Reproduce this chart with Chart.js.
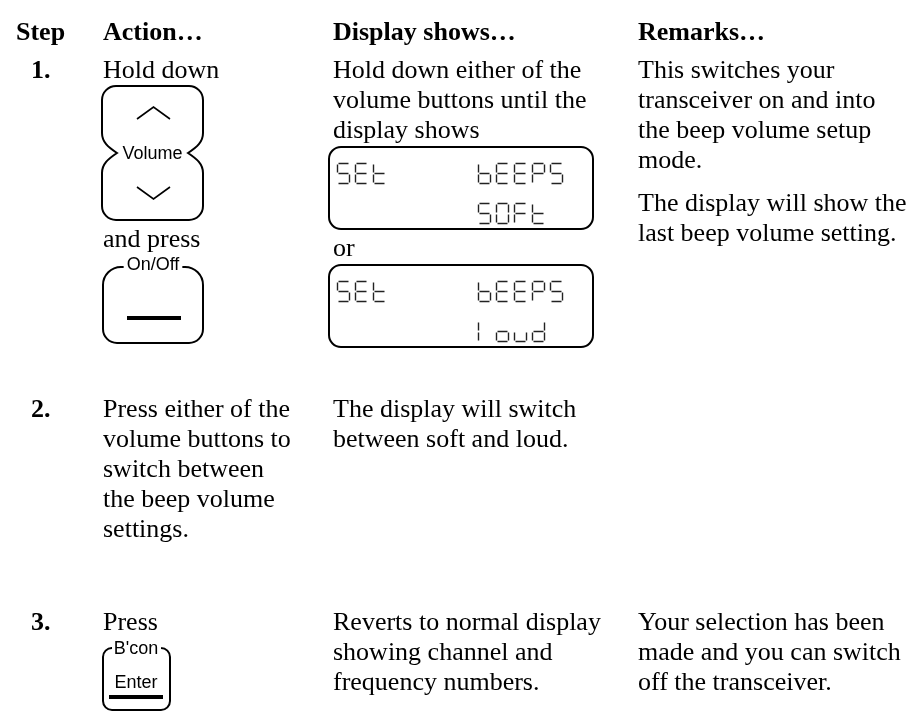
<!DOCTYPE html>
<html>
<head>
<meta charset="utf-8">
<script src="https://cdn.jsdelivr.net/npm/chart.js@4.4.0/dist/chart.umd.min.js"></script>
<style>
html, body { margin: 0; padding: 0; background: #fff; }
#page { width: 908px; height: 712px; }
</style>
</head>
<body>
<div id="page"><canvas id="stepsChart" width="908" height="712"></canvas></div>
<script>
// Table text
const headers = ['Step', 'Action…', 'Display shows…', 'Remarks…'];
const stepNumbers = ['1.', '2.', '3.'];

const step1Action = ['Hold down'];
const step1ActionAfter = ['and press'];
const step1Display = ['Hold down either of the', 'volume buttons until the', 'display shows'];
const step1DisplayOr = ['or'];
const step1Remarks = ['This switches your', 'transceiver on and into', 'the beep volume setup', 'mode.'];
const step1Remarks2 = ['The display will show the', 'last beep volume setting.'];

const step2Action = ['Press either of the', 'volume buttons to', 'switch between', 'the beep volume', 'settings.'];
const step2Display = ['The display will switch', 'between soft and loud.'];

const step3Action = ['Press'];
const step3Display = ['Reverts to normal display', 'showing channel and', 'frequency numbers.'];
const step3Remarks = ['Your selection has been', 'made and you can switch', 'off the transceiver.'];

// LCD contents (one entry per display box)
const lcdLeft = ['SEt', 'SEt'];
const lcdRight = ['bEEPS', 'bEEPS'];
const lcdSecond = ['SOFt', 'loud'];

// Button captions
const volumeLabel = 'Volume';
const onOffLabel = 'On/Off';
const bconLabel = "B'con";
const enterLabel = 'Enter';

// 7-segment letters
const segmentMap = {
    S: 'afgcd', E: 'afged', t: 'fged', b: 'fgecd', P: 'abfge',
    O: 'abcdef', F: 'afge', l: 'ef', o: 'cdeg', u: 'cde', d: 'bcdeg'
};

const SERIF = '"Liberation Serif", "Times New Roman", serif';
const SANS = '"Liberation Sans", Arial, sans-serif';

const pagePlugin = {
    id: 'pagePlugin',
    afterDraw(chart) {
        const ctx = chart.ctx;
        const xs = chart.scales.x;
        const ys = chart.scales.y;
        const px = v => xs.getPixelForValue(v);
        const py = v => ys.getPixelForValue(v);

        ctx.save();
        ctx.fillStyle = '#000';
        ctx.strokeStyle = '#000';
        ctx.textBaseline = 'alphabetic';

        function lines(arr, x, base) {
            arr.forEach((t, i) => ctx.fillText(t, px(x), py(base + i * 30)));
        }

        // headers
        ctx.font = 'bold 26px ' + SERIF;
        const colX = [16, 103, 333, 638];
        headers.forEach((h, i) => ctx.fillText(h, px(colX[i]), py(40)));
        const rowBase = [78, 417, 630];
        stepNumbers.forEach((n, i) => ctx.fillText(n, px(31), py(rowBase[i])));

        // body text
        ctx.font = '26px ' + SERIF;
        lines(step1Action, 103, 78);
        lines(step1ActionAfter, 103, 247);
        lines(step1Display, 333, 78);
        lines(step1DisplayOr, 333, 256);
        lines(step1Remarks, 638, 78);
        lines(step1Remarks2, 638, 211);
        lines(step2Action, 103, 417);
        lines(step2Display, 333, 417);
        lines(step3Action, 103, 630);
        lines(step3Display, 333, 630);
        lines(step3Remarks, 638, 630);

        // volume button (two keys joined, pinched in the middle)
        ctx.lineWidth = 2;
        (function () {
            const L = px(102), R = px(203), T = py(86), B = py(220), M = py(153), r = 14, k = 15;
            ctx.beginPath();
            ctx.moveTo(L + r, T);
            ctx.lineTo(R - r, T);
            ctx.arcTo(R, T, R, T + r, r);
            ctx.lineTo(R, M - 20);
            ctx.bezierCurveTo(R, M - 11, R - 6, M - 6, R - k, M);
            ctx.bezierCurveTo(R - 6, M + 6, R, M + 11, R, M + 20);
            ctx.lineTo(R, B - r);
            ctx.arcTo(R, B, R - r, B, r);
            ctx.lineTo(L + r, B);
            ctx.arcTo(L, B, L, B - r, r);
            ctx.lineTo(L, M + 20);
            ctx.bezierCurveTo(L, M + 11, L + 6, M + 6, L + k, M);
            ctx.bezierCurveTo(L + 6, M - 6, L, M - 11, L, M - 20);
            ctx.lineTo(L, T + r);
            ctx.arcTo(L, T, L + r, T, r);
            ctx.closePath();
            ctx.stroke();

            ctx.lineWidth = 1.6;
            ctx.beginPath();
            ctx.moveTo(px(137), py(119)); ctx.lineTo(px(153.5), py(107)); ctx.lineTo(px(170), py(119));
            ctx.moveTo(px(137), py(187)); ctx.lineTo(px(153.5), py(199)); ctx.lineTo(px(170), py(187));
            ctx.stroke();

            ctx.font = '18px ' + SANS;
            ctx.textAlign = 'center';
            ctx.textBaseline = 'middle';
            ctx.fillText(volumeLabel, px(152.5), py(154));
            ctx.textAlign = 'left';
            ctx.textBaseline = 'alphabetic';
        })();

        // button with caption in the top edge
        function captionButton(L, R, T, B, rt, rb, cx, label, labelBase) {
            ctx.font = '18px ' + SANS;
            const w = ctx.measureText(label).width;
            const g1 = cx - w / 2 - 3, g2 = cx + w / 2 + 3;
            ctx.lineWidth = 2;
            ctx.beginPath();
            ctx.moveTo(g1, T);
            ctx.lineTo(L + rt, T);
            ctx.arcTo(L, T, L, T + rt, rt);
            ctx.lineTo(L, B - rb);
            ctx.arcTo(L, B, L + rb, B, rb);
            ctx.lineTo(R - rb, B);
            ctx.arcTo(R, B, R, B - rb, rb);
            ctx.lineTo(R, T + rt);
            ctx.arcTo(R, T, R - rt, T, rt);
            ctx.lineTo(g2, T);
            ctx.stroke();
            ctx.textAlign = 'center';
            ctx.fillText(label, cx, labelBase);
            ctx.textAlign = 'left';
        }

        captionButton(px(103), px(203), py(267), py(343), 18, 14, px(153), onOffLabel, py(270));
        ctx.lineWidth = 4;
        ctx.beginPath();
        ctx.moveTo(px(127), py(318)); ctx.lineTo(px(181), py(318));
        ctx.stroke();

        captionButton(px(103), px(170), py(648), py(710), 9, 9, px(136), bconLabel, py(654));
        ctx.font = '18px ' + SANS;
        ctx.textAlign = 'center';
        ctx.fillText(enterLabel, px(136), py(688));
        ctx.textAlign = 'left';
        ctx.lineWidth = 4;
        ctx.beginPath();
        ctx.moveTo(px(109), py(697)); ctx.lineTo(px(163), py(697));
        ctx.stroke();

        // LCD boxes
        function roundRect(L, T, R, B, r) {
            ctx.beginPath();
            ctx.moveTo(L + r, T);
            ctx.lineTo(R - r, T);
            ctx.arcTo(R, T, R, T + r, r);
            ctx.lineTo(R, B - r);
            ctx.arcTo(R, B, R - r, B, r);
            ctx.lineTo(L + r, B);
            ctx.arcTo(L, B, L, B - r, r);
            ctx.lineTo(L, T + r);
            ctx.arcTo(L, T, L + r, T, r);
            ctx.closePath();
            ctx.stroke();
        }

        function segChar(ch, x, y) {
            const w = 12, h = 20, gap = 1, m = h / 2;
            const segs = {
                a: [gap, 0, w - gap, 0], b: [w, gap, w, m - gap], c: [w, m + gap, w, h - gap],
                d: [gap, h, w - gap, h], e: [0, m + gap, 0, h - gap], f: [0, gap, 0, m - gap],
                g: [gap, m, w - gap, m]
            };
            const on = segmentMap[ch] || '';
            ctx.beginPath();
            for (const s of on) {
                const c = segs[s];
                ctx.moveTo(x + c[0], y + c[1]);
                ctx.lineTo(x + c[2], y + c[3]);
            }
            ctx.stroke();
        }

        function segText(str, x, y) {
            for (let i = 0; i < str.length; i++) segChar(str[i], x + i * 18, y);
        }

        const boxTop = [147, 265];
        lcdLeft.forEach((txt, i) => {
            const T = py(boxTop[i]);
            ctx.strokeStyle = '#000';
            ctx.lineWidth = 2;
            roundRect(px(329), T, px(593), T + 82, 12);
            ctx.strokeStyle = '#222';
            ctx.lineWidth = 1.4;
            segText(txt, px(337.5), T + 16.5);
            segText(lcdRight[i], px(478.5), T + 16.5);
            segText(lcdSecond[i], px(478.5), T + 56.5);
        });

        ctx.restore();
    }
};

document.addEventListener('DOMContentLoaded', function () {
    const ctx = document.getElementById('stepsChart').getContext('2d');
    new Chart(ctx, {
        type: 'scatter',
        data: { datasets: [] },
        options: {
            responsive: false,
            animation: false,
            events: [],
            layout: { padding: 0 },
            plugins: { legend: { display: false }, tooltip: { enabled: false } },
            scales: {
                x: { type: 'linear', min: 0, max: 908, display: false },
                y: { type: 'linear', min: 0, max: 712, reverse: true, display: false }
            }
        },
        plugins: [pagePlugin]
    });
});
</script>
</body>
</html>
